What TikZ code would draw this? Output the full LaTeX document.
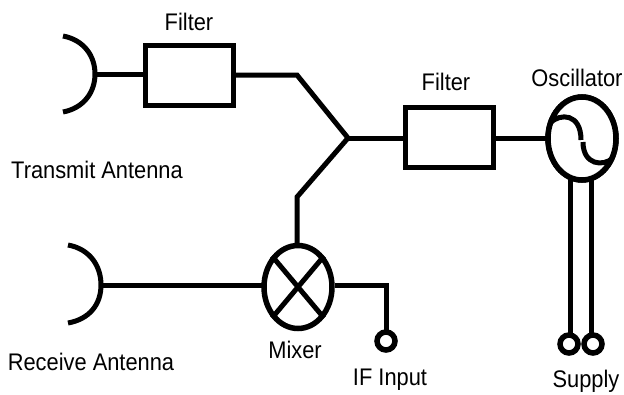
\documentclass[tikz,border=0pt]{standalone}
\usepackage{fontspec}
\setmainfont{Liberation Sans}
\usetikzlibrary{shapes.geometric}
\tikzset{
  wire/.style={line width=5pt,line cap=butt,line join=miter},
  filterbox/.style={draw,line width=5pt,minimum width=88pt,minimum height=60pt,inner sep=0pt,outer sep=0pt},
  roundel/.style={draw,ellipse,line width=5.5pt,minimum width=68pt,minimum height=83pt,inner sep=0pt,outer sep=2.5pt},
  term/.style={draw,circle,line width=5.5pt,minimum size=18pt,inner sep=0pt,outer sep=2pt},
  lbl/.style={inner sep=0pt,font=\fontsize{24}{26}\selectfont,xscale=0.91}
}
\begin{document}
\begin{tikzpicture}[x=1pt,y=-1pt]
\useasboundingbox (0,0) rectangle (624,394);
\node[filterbox] (f1) at (189.5,75.5) {};
\node[filterbox] (f2) at (449,137.5) {};
\node[roundel] (osc) at (582,138.5) {};
\node[roundel] (mix) at (298,287) {};
\node[term] (ifin) at (386,341) {};
\node[term] (s1) at (569,344) {};
\node[term] (s2) at (593,344) {};
\coordinate (a1top) at (63,36);
\coordinate (a1mid) at (95,74);
\coordinate (a1bot) at (63,112);
\coordinate (a2top) at (68,245);
\coordinate (a2mid) at (101,285);
\coordinate (a2bot) at (68,323);
\coordinate (j) at (348,138);
\coordinate (k1) at (297,75);
\coordinate (k2) at (297,197);
\coordinate (k3) at (386,285);
\coordinate (o1) at (570,170);
\coordinate (o2) at (591.5,170);
\draw[wire] (a1top) .. controls (84,40) and (95,56) .. (a1mid) .. controls (95,92) and (84,108) .. (a1bot);
\draw[wire] (a2top) .. controls (90,249) and (101,266) .. (a2mid) .. controls (101,304) and (90,319) .. (a2bot);
\draw[wire] (a1mid) -- (f1.west |- a1mid);
\draw[wire] (f1.east |- k1) -- (k1) -- (j);
\draw[wire] (j) -- (k2) -- (mix.north -| k2);
\draw[wire] (j) -- (f2.west |- j);
\draw[wire] (f2.east |- j) -- (osc.west |- j);
\draw[wire] (a2mid) -- (mix.west |- a2mid);
\draw[wire] (mix.east |- k3) -- (k3) -- (ifin.north);
\draw[wire] (mix.50) -- (mix.230);
\draw[wire] (mix.130) -- (mix.310);
\draw[wire] (o1) -- (s1.north -| o1);
\draw[wire] (o2) -- (s2.north -| o2);
\node[roundel,fill=white] at (osc) {};
\draw[wire] (550,123) .. controls (560,113) and (581,113) .. (581,140);
\draw[wire] (583,142) .. controls (583,165) and (603,167) .. (613,158);
\node[lbl] (t1) at (189,22) {Filter};
\node[lbl] (t2) at (446,82) {Filter};
\node[lbl] (t3) at (577,78) {Oscillator};
\node[lbl] (t4) at (97,170) {Transmit Antenna};
\node[lbl] (t5) at (91,362) {Receive Antenna};
\node[lbl] (t6) at (295,350) {Mixer};
\node[lbl] (t7) at (390,380) {IF Input};
\node[lbl] (t8) at (586,381) {Supply};
\end{tikzpicture}
\end{document}
